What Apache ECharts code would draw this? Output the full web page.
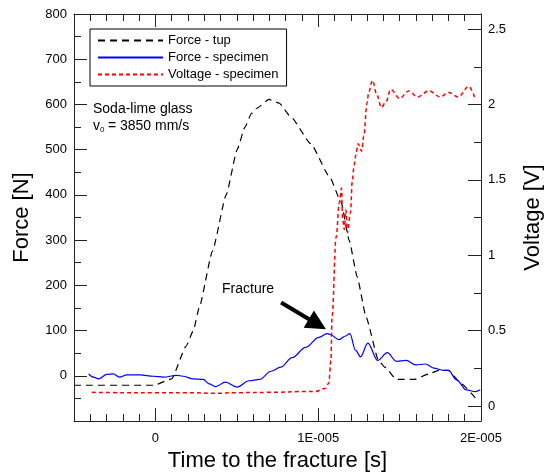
<!DOCTYPE html>
<html>
<head>
<meta charset="utf-8">
<script src="https://cdn.jsdelivr.net/npm/echarts@6/dist/echarts.min.js"></script>
<style>
  html, body { margin: 0; padding: 0; background: #fff; }
  #chart { width: 544px; height: 473px; }
</style>
</head>
<body>
<div id="chart"></div>
<script>
// time axis in microseconds, labels written as seconds
var xTickValues = [0, 10, 20];
var xTickLabels = ['0', '1E-005', '2E-005'];
var voltTickValues = [0, 0.5, 1, 1.5, 2, 2.5];
var voltTickLabels = ['0', '0.5', '1', '1.5', '2', '2.5'];
var voltMinorValues = [0, 0.25, 0.5, 0.75, 1, 1.25, 1.5, 1.75, 2, 2.25, 2.5];

// Force - tup
var tupTime  = [-5, -0.1, 1.0, 1.88, 2.33, 2.7, 3.5, 4.35, 5.02, 5.5, 5.9, 6.2, 6.98, 7.6, 8.33, 9.55, 10.7, 11.4, 11.9, 12.4, 12.94, 13.7, 14.1, 14.8, 15.9, 16.8, 17.4, 18.0, 18.8, 19.7];
var tupForce = [-21, -21, -7, 65, 100, 152, 275, 400, 500, 550, 580, 591, 611, 603, 572, 513, 440, 385, 300, 218, 130, 34, 19, -8, -8, 4, 12, 12, -18, -51];

// Force - specimen
var specTime  = [-4.1, -3.8, -3.5, -2.98, -2.6, -2.2, -1.76, -0.94, -0.12, 0.5, 1.3, 1.7, 2.33, 2.94, 3.3, 3.7, 4.3, 5.0, 5.76, 6.4, 7.1, 7.7, 8.4, 9.23, 10.04, 10.55, 10.76, 11.27, 11.68, 11.94, 12.3, 12.6, 13.05, 13.65, 14.25, 14.8, 15.4, 16.0, 16.6, 17.1, 17.7, 18.0, 18.5, 19.1, 19.65, 19.95];
var specForce = [4, -3, -7, 3, 4, -3, 2, 2, -1, -3, 1, -1, -7, -8, -18, -24, -14, -25, -11, -8, 10, 19, 40, 63, 85, 93, 91, 80, 88, 93, 56, 42, 72, 34, 51, 32, 34, 24, 26, 17, 12, 12, -9, -31, -35, -31];

// Voltage - specimen
var voltTime  = [-3.9, -2, 0, 2, 3.7, 5, 7, 9, 9.8, 10.45, 10.65, 10.78, 10.85, 11.1, 11.3, 11.43, 11.5, 11.6, 11.7, 11.8, 11.98, 12.1, 12.2, 12.3, 12.45, 12.67, 12.8, 13.0, 13.1, 13.33, 13.6, 13.88, 14.17, 14.45, 15.0, 15.57, 16.1, 16.8, 17.5, 18.0, 18.6, 19.25, 19.6];
var voltValue = [0.09, 0.088, 0.088, 0.088, 0.084, 0.088, 0.09, 0.095, 0.095, 0.117, 0.15, 0.3, 0.59, 1.12, 1.35, 1.445, 1.24, 1.17, 1.3, 1.15, 1.28, 1.5, 1.59, 1.66, 1.74, 1.69, 1.79, 2.01, 2.08, 2.16, 2.065, 1.98, 2.02, 2.10, 2.04, 2.09, 2.05, 2.09, 2.05, 2.08, 2.05, 2.12, 2.05];

// arrow pointing at the fracture (time, force)
var arrowFrom = [7.72, 162];
var arrowTo = [9.95, 114];

function pairs(xs, ys) {
  return xs.map(function (x, i) { return [x, ys[i]]; });
}

var FONT = '"Liberation Sans", Arial, sans-serif';
var AXIS_COLOR = '#222';

var chart = echarts.init(document.getElementById('chart'));

var option = {
  animation: false,
  textStyle: { fontFamily: FONT },
  grid: { left: 74, right: 63, top: 14, bottom: 52, containLabel: false, outerBoundsMode: 'none' },
  legend: {
    orient: 'vertical',
    left: 90, top: 29,
    padding: [5, 8, 5, 7],
    itemWidth: 65, itemHeight: 14, itemGap: 4,
    borderColor: '#000', borderWidth: 1, borderRadius: 0,
    backgroundColor: '#fff',
    itemStyle: { opacity: 0 },
    textStyle: { fontSize: 13, color: '#000', fontFamily: FONT },
    data: ['Force - tup', 'Force - specimen', 'Voltage - specimen']
  },
  xAxis: [
    { // bottom, major ticks and labels
      type: 'value', position: 'bottom', min: -5, max: 20,
      name: 'Time to the fracture [s]', nameLocation: 'middle', nameGap: 24,
      nameTextStyle: { fontSize: 22, color: '#000', fontFamily: FONT },
      axisLine: { show: true, onZero: false, lineStyle: { color: AXIS_COLOR, width: 1 } },
      axisTick: { show: true, inside: true, length: 13, customValues: xTickValues, lineStyle: { color: AXIS_COLOR } },
      axisLabel: {
        customValues: xTickValues, margin: 11, fontSize: 13, color: '#000', fontFamily: FONT,
        formatter: function (v) { var i = xTickValues.indexOf(v); return i >= 0 ? xTickLabels[i] : ''; }
      },
      splitLine: { show: false }
    },
    { // bottom, minor ticks
      type: 'value', position: 'bottom', min: -5, max: 20, interval: 1,
      axisLine: { show: false, onZero: false },
      axisTick: { show: true, inside: true, length: 7, lineStyle: { color: AXIS_COLOR } },
      axisLabel: { show: false }, splitLine: { show: false }
    },
    { // top, major ticks
      type: 'value', position: 'top', min: -5, max: 20,
      axisLine: { show: true, onZero: false, lineStyle: { color: AXIS_COLOR, width: 1 } },
      axisTick: { show: true, inside: true, length: 13, customValues: xTickValues, lineStyle: { color: AXIS_COLOR } },
      axisLabel: { show: false }, splitLine: { show: false }
    },
    { // top, minor ticks
      type: 'value', position: 'top', min: -5, max: 20, interval: 1,
      axisLine: { show: false, onZero: false },
      axisTick: { show: true, inside: true, length: 7, lineStyle: { color: AXIS_COLOR } },
      axisLabel: { show: false }, splitLine: { show: false }
    }
  ],
  yAxis: [
    { // force, major ticks and labels
      type: 'value', position: 'left', min: -100, max: 800, interval: 100,
      name: 'Force [N]', nameLocation: 'middle', nameGap: 41,
      nameTextStyle: { fontSize: 22, color: '#000', fontFamily: FONT },
      axisLine: { show: true, onZero: false, lineStyle: { color: AXIS_COLOR, width: 1 } },
      axisTick: { show: true, inside: true, length: 13, lineStyle: { color: AXIS_COLOR } },
      axisLabel: {
        margin: 7, fontSize: 13, color: '#000', fontFamily: FONT,
        formatter: function (v) { return v < 0 ? '' : String(v); }
      },
      splitLine: { show: false }
    },
    { // voltage, major ticks
      type: 'value', position: 'right', min: -0.1, max: 2.6,
      name: 'Voltage [V]', nameLocation: 'middle', nameGap: 41,
      nameTextStyle: { fontSize: 22, color: '#000', fontFamily: FONT },
      axisLine: { show: true, onZero: false, lineStyle: { color: AXIS_COLOR, width: 1 } },
      axisTick: { show: true, inside: true, length: 13, customValues: voltTickValues, lineStyle: { color: AXIS_COLOR } },
      axisLabel: {
        customValues: voltTickValues, margin: 7, fontSize: 13, color: '#000', fontFamily: FONT,
        formatter: function (v) {
          for (var i = 0; i < voltTickValues.length; i++) {
            if (Math.abs(voltTickValues[i] - v) < 1e-9) return voltTickLabels[i];
          }
          return '';
        }
      },
      splitLine: { show: false }
    },
    { // voltage, minor ticks
      type: 'value', position: 'right', min: -0.1, max: 2.6,
      axisLine: { show: false, onZero: false },
      axisTick: { show: true, inside: true, length: 7, customValues: voltMinorValues, lineStyle: { color: AXIS_COLOR } },
      axisLabel: { show: false }, splitLine: { show: false }
    },
    { // force, minor ticks
      type: 'value', position: 'left', min: -100, max: 800, interval: 50,
      axisLine: { show: false, onZero: false },
      axisTick: { show: true, inside: true, length: 7, lineStyle: { color: AXIS_COLOR } },
      axisLabel: { show: false }, splitLine: { show: false }
    }
  ],
  series: [
    {
      name: 'Force - tup', type: 'line', xAxisIndex: 0, yAxisIndex: 0,
      data: pairs(tupTime, tupForce), symbol: 'none', smooth: 0.15, smoothMonotone: 'x',
      lineStyle: { color: '#000', width: 1.2, type: [7, 5] },
      itemStyle: { color: '#000' }
    },
    {
      name: 'Force - specimen', type: 'line', xAxisIndex: 0, yAxisIndex: 0,
      data: pairs(specTime, specForce), symbol: 'none', smooth: 0.35, smoothMonotone: 'x',
      lineStyle: { color: '#0000ff', width: 1.2 },
      itemStyle: { color: '#0000ff' },
      markLine: {
        silent: true, animation: false,
        symbol: ['none', 'triangle'], symbolSize: 20,
        label: { show: false },
        lineStyle: { color: '#000', width: 4, type: 'solid' },
        data: [[{ coord: arrowFrom }, { coord: arrowTo }]]
      }
    },
    {
      name: 'Voltage - specimen', type: 'line', xAxisIndex: 0, yAxisIndex: 1,
      data: pairs(voltTime, voltValue), symbol: 'none', smooth: 0.35, smoothMonotone: 'x',
      lineStyle: { color: '#ff0000', width: 1.5, type: [4, 3] },
      itemStyle: { color: '#ff0000' }
    }
  ],
  graphic: [
    { type: 'text', left: 93, top: 102, style: { text: 'Soda-lime glass', font: '14px ' + FONT, fill: '#000' } },
    { type: 'text', left: 93, top: 119, style: { text: 'v', font: '14px ' + FONT, fill: '#000' } },
    { type: 'text', left: 100, top: 126, style: { text: '0', font: '8px ' + FONT, fill: '#000' } },
    { type: 'text', left: 104, top: 119, style: { text: ' = 3850 mm/s', font: '14px ' + FONT, fill: '#000' } },
    { type: 'text', left: 222, top: 282, style: { text: 'Fracture', font: '14px ' + FONT, fill: '#000' } }
  ]
};

chart.setOption(option);
</script>
</body>
</html>
